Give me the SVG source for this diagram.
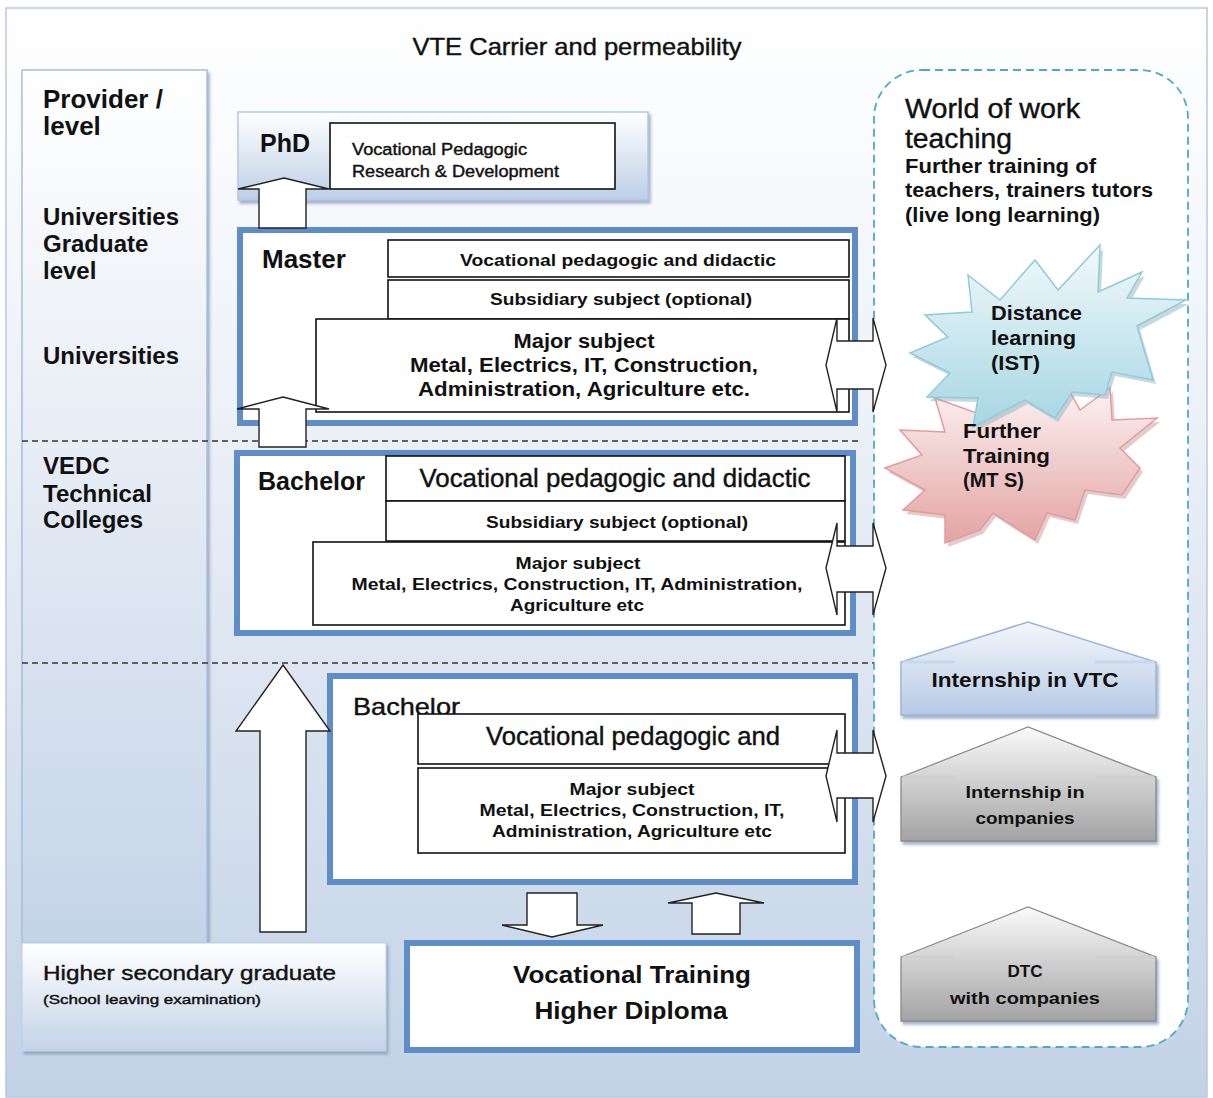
<svg xmlns="http://www.w3.org/2000/svg" width="1213" height="1098" viewBox="0 0 1213 1098">
  <defs>
    <linearGradient id="bgGrad" x1="0" y1="0" x2="0" y2="1">
      <stop offset="0" stop-color="#ffffff"/>
      <stop offset="0.35" stop-color="#eef2f8"/>
      <stop offset="1" stop-color="#c2d2e6"/>
    </linearGradient>
    <linearGradient id="colGrad" x1="0" y1="0" x2="0" y2="1">
      <stop offset="0" stop-color="#ffffff"/>
      <stop offset="0.4" stop-color="#e9eef6"/>
      <stop offset="1" stop-color="#c4d4e8"/>
    </linearGradient>
    <linearGradient id="phdGrad" x1="0" y1="0" x2="0" y2="1">
      <stop offset="0" stop-color="#ffffff"/>
      <stop offset="1" stop-color="#bccfe6"/>
    </linearGradient>
    <linearGradient id="hsGrad" x1="0" y1="0" x2="0" y2="1">
      <stop offset="0" stop-color="#ffffff"/>
      <stop offset="1" stop-color="#c3d3e8"/>
    </linearGradient>
    <linearGradient id="vtcGrad" x1="0" y1="0" x2="0" y2="1">
      <stop offset="0" stop-color="#f4f7fb"/>
      <stop offset="1" stop-color="#b6cae4"/>
    </linearGradient>
    <linearGradient id="grayGrad" x1="0" y1="0" x2="0" y2="1">
      <stop offset="0" stop-color="#fafafa"/>
      <stop offset="1" stop-color="#a3a3a3"/>
    </linearGradient>
    <linearGradient id="blueStar" x1="0" y1="0" x2="0" y2="1">
      <stop offset="0" stop-color="#f2f9fb"/>
      <stop offset="1" stop-color="#a6d6e3"/>
    </linearGradient>
    <linearGradient id="pinkStar" x1="0" y1="0" x2="0" y2="1">
      <stop offset="0" stop-color="#fcf2f2"/>
      <stop offset="1" stop-color="#e3a3a3"/>
    </linearGradient>
    <filter id="shadow" x="-10%" y="-10%" width="125%" height="130%">
      <feDropShadow dx="2" dy="3" stdDeviation="1.5" flood-color="#7d93b2" flood-opacity="0.7"/>
    </filter>
  </defs>
  <style>
    text { font-family: "Liberation Sans", Arial, sans-serif; fill: #111; }
    .b { font-weight: bold; }
    .m { stroke: #111; stroke-width: 0.4; }
    .c { text-anchor: middle; }
    .frame { fill: url(#bgGrad); stroke: #b7c9e0; stroke-width: 1.5; }
    .tier { fill: #ffffff; stroke: #5f8dc8; stroke-width: 6; }
    .row { fill: #ffffff; stroke: #111; stroke-width: 1.6; }
    .arrow { fill: #ffffff; stroke: #222; stroke-width: 1.4; stroke-linejoin: miter; }
    .divider { stroke: #333; stroke-width: 1.6; stroke-dasharray: 6 4; fill: none; }
    .roofline { stroke-width: 3; fill: none; }
  </style>

  <!-- page background -->
  <rect class="frame" x="6" y="8" width="1201" height="1089"/>
  <text x="577" y="55" class="c m" font-size="24" textLength="329" lengthAdjust="spacingAndGlyphs">VTE Carrier and permeability</text>

  <!-- provider / level column -->
  <g id="provider-column">
    <rect x="22" y="70" width="185" height="873" fill="url(#colGrad)" stroke="#a9bfdc" stroke-width="1.5" filter="url(#shadow)"/>
    <text x="43" y="108" class="b" font-size="26">Provider /</text>
    <text x="43" y="135" class="b" font-size="26">level</text>
    <text x="43" y="225" class="b" font-size="24">Universities</text>
    <text x="43" y="252" class="b" font-size="24">Graduate</text>
    <text x="43" y="279" class="b" font-size="24">level</text>
    <text x="43" y="364" class="b" font-size="24">Universities</text>
    <text x="43" y="474" class="b" font-size="24">VEDC</text>
    <text x="43" y="502" class="b" font-size="24">Technical</text>
    <text x="43" y="528" class="b" font-size="24">Colleges</text>
  </g>

  <!-- level dividers -->
  <g id="dividers">
    <line class="divider" x1="22" y1="441" x2="860" y2="441"/>
    <line class="divider" x1="22" y1="663" x2="875" y2="663"/>
  </g>

  <!-- world of work frame -->
  <g id="world-of-work">
    <rect x="874" y="70" width="314" height="977" rx="48" ry="48" fill="#ffffff" stroke="#4bacc6" stroke-width="1.8" stroke-dasharray="8 5"/>
    <text x="905" y="118" class="m" font-size="27" textLength="175" lengthAdjust="spacingAndGlyphs">World of work</text>
    <text x="905" y="148" class="m" font-size="27" textLength="107" lengthAdjust="spacingAndGlyphs">teaching</text>
    <text x="905" y="173" class="b" font-size="20" textLength="191" lengthAdjust="spacingAndGlyphs">Further training of</text>
    <text x="905" y="197" class="b" font-size="20" textLength="248" lengthAdjust="spacingAndGlyphs">teachers, trainers tutors</text>
    <text x="905" y="222" class="b" font-size="20" textLength="195" lengthAdjust="spacingAndGlyphs">(live long learning)</text>
  </g>

  <!-- PhD -->
  <g id="phd">
    <rect x="238" y="112" width="410" height="88" fill="url(#phdGrad)" stroke="#b4c8e2" stroke-width="1.5" filter="url(#shadow)"/>
    <text x="260" y="152" class="b" font-size="25">PhD</text>
    <rect x="330" y="123" width="285" height="66" class="row"/>
    <text x="352" y="155" class="m" font-size="16" textLength="175" lengthAdjust="spacingAndGlyphs">Vocational Pedagogic</text>
    <text x="352" y="177" class="m" font-size="16" textLength="207" lengthAdjust="spacingAndGlyphs">Research &amp; Development</text>
  </g>

  <!-- Master -->
  <g id="master">
    <rect x="240" y="230" width="615" height="193" class="tier"/>
    <text x="262" y="268" class="b" font-size="26">Master</text>
    <rect x="388" y="240" width="461" height="37" class="row"/>
    <text x="618" y="266" class="c b" font-size="16" textLength="316" lengthAdjust="spacingAndGlyphs">Vocational pedagogic and didactic</text>
    <rect x="388" y="280" width="461" height="39" class="row"/>
    <text x="621" y="305" class="c b" font-size="16" textLength="262" lengthAdjust="spacingAndGlyphs">Subsidiary subject (optional)</text>
    <rect x="316" y="319" width="533" height="93" class="row"/>
    <text x="584" y="348" class="c b" font-size="20" textLength="141" lengthAdjust="spacingAndGlyphs">Major subject</text>
    <text x="584" y="372" class="c b" font-size="20" textLength="348" lengthAdjust="spacingAndGlyphs">Metal, Electrics, IT, Construction,</text>
    <text x="584" y="396" class="c b" font-size="20" textLength="332" lengthAdjust="spacingAndGlyphs">Administration, Agriculture etc.</text>
  </g>

  <!-- Bachelor at VEDC / technical colleges -->
  <g id="bachelor-vedc">
    <rect x="237" y="453" width="616" height="180" class="tier"/>
    <text x="258" y="490" class="b" font-size="25">Bachelor</text>
    <rect x="386" y="456" width="459" height="45" class="row"/>
    <text x="615" y="487" class="c m" font-size="25" textLength="391" lengthAdjust="spacingAndGlyphs">Vocational pedagogic and didactic</text>
    <rect x="386" y="501" width="459" height="40" class="row"/>
    <text x="617" y="528" class="c b" font-size="16" textLength="262" lengthAdjust="spacingAndGlyphs">Subsidiary subject (optional)</text>
    <rect x="313" y="542" width="532" height="83" class="row"/>
    <text x="578" y="569" class="c b" font-size="17" textLength="125" lengthAdjust="spacingAndGlyphs">Major subject</text>
    <text x="577" y="590" class="c b" font-size="17" textLength="451" lengthAdjust="spacingAndGlyphs">Metal, Electrics, Construction, IT, Administration,</text>
    <text x="577" y="611" class="c b" font-size="17" textLength="134" lengthAdjust="spacingAndGlyphs">Agriculture etc</text>
  </g>

  <!-- Bachelor (lower level) -->
  <g id="bachelor-lower">
    <rect x="330" y="676" width="525" height="206" class="tier"/>
    <text x="353" y="715" class="m" font-size="24" textLength="107" lengthAdjust="spacingAndGlyphs">Bachelor</text>
    <rect x="418" y="714" width="427" height="50" class="row"/>
    <text x="633" y="745" class="c m" font-size="25" textLength="294" lengthAdjust="spacingAndGlyphs">Vocational pedagogic and</text>
    <rect x="418" y="768" width="427" height="85" class="row"/>
    <text x="632" y="795" class="c b" font-size="17" textLength="125" lengthAdjust="spacingAndGlyphs">Major subject</text>
    <text x="632" y="816" class="c b" font-size="17" textLength="305" lengthAdjust="spacingAndGlyphs">Metal, Electrics, Construction, IT,</text>
    <text x="632" y="837" class="c b" font-size="17" textLength="280" lengthAdjust="spacingAndGlyphs">Administration, Agriculture etc</text>
  </g>

  <!-- Higher secondary graduate -->
  <g id="higher-secondary">
    <rect x="22" y="943" width="364" height="108" fill="url(#hsGrad)" stroke="#c0d0e6" stroke-width="1" filter="url(#shadow)"/>
    <text x="43" y="980" class="m" font-size="21" textLength="293" lengthAdjust="spacingAndGlyphs">Higher secondary graduate</text>
    <text x="43" y="1004" class="m" font-size="13" stroke-width="0.3" textLength="218" lengthAdjust="spacingAndGlyphs">(School leaving examination)</text>
  </g>

  <!-- Vocational Training Higher Diploma -->
  <g id="vocational-diploma">
    <rect x="407" y="943" width="450" height="107" class="tier"/>
    <text x="632" y="983" class="c b" font-size="24" textLength="238" lengthAdjust="spacingAndGlyphs">Vocational Training</text>
    <text x="631" y="1019" class="c b" font-size="24" textLength="193" lengthAdjust="spacingAndGlyphs">Higher Diploma</text>
  </g>

  <!-- further training bursts -->
  <g id="further-training">
    <polygon points="900,430 945,432 935,398 990,418 1030,392 1067,387 1080,410 1110,388 1112,420 1157,418 1120,448 1140,468 1122,495 1085,490 1075,520 1047,513 1035,540 993,513 980,530 945,543 945,515 903,510 925,490 885,468 922,455" fill="#c89a9a" opacity="0.5" transform="translate(3,4)"/>
    <polygon points="900,430 945,432 935,398 990,418 1030,392 1067,387 1080,410 1110,388 1112,420 1157,418 1120,448 1140,468 1122,495 1085,490 1075,520 1047,513 1035,540 993,513 980,530 945,543 945,515 903,510 925,490 885,468 922,455" fill="url(#pinkStar)" stroke="#e39c9c" stroke-width="1.5"/>
  </g>
  <g id="distance-learning">
    <polygon points="968,275 1000,300 1035,260 1058,290 1100,245 1098,292 1142,272 1127,298 1186,300 1137,326 1153,380 1112,372 1105,395 1072,392 1055,418 1025,400 973,427 978,398 927,397 950,373 910,353 948,337 925,315 972,312" fill="#8fb4c0" opacity="0.5" transform="translate(3,4)"/>
    <polygon points="968,275 1000,300 1035,260 1058,290 1100,245 1098,292 1142,272 1127,298 1186,300 1137,326 1153,380 1112,372 1105,395 1072,392 1055,418 1025,400 973,427 978,398 927,397 950,373 910,353 948,337 925,315 972,312" fill="url(#blueStar)" stroke="#8fcbdb" stroke-width="1.5"/>
    <text x="991" y="320" class="b" font-size="21" textLength="91" lengthAdjust="spacingAndGlyphs">Distance</text>
    <text x="991" y="345" class="b" font-size="21" textLength="85" lengthAdjust="spacingAndGlyphs">learning</text>
    <text x="991" y="370" class="b" font-size="21" textLength="49" lengthAdjust="spacingAndGlyphs">(IST)</text>
  </g>
  <g id="further-training-label">
    <text x="963" y="438" class="b" font-size="21" textLength="78" lengthAdjust="spacingAndGlyphs">Further</text>
    <text x="963" y="463" class="b" font-size="21" textLength="87" lengthAdjust="spacingAndGlyphs">Training</text>
    <text x="963" y="487" class="b" font-size="21" textLength="61" lengthAdjust="spacingAndGlyphs">(MT S)</text>
  </g>

  <!-- internships and DTC -->
  <g id="internship-vtc">
    <polygon points="901,662 1028,622 1156,662 1156,715 901,715" fill="url(#vtcGrad)" stroke="#9ab7db" stroke-width="1.5" filter="url(#shadow)"/>
    <line class="roofline" x1="903" y1="662" x2="955" y2="662" stroke="#c9d8ec"/>
    <line class="roofline" x1="1095" y1="662" x2="1154" y2="662" stroke="#c9d8ec"/>
    <text x="1025" y="687" class="c b" font-size="21" textLength="187" lengthAdjust="spacingAndGlyphs">Internship in VTC</text>
  </g>
  <g id="internship-companies">
    <polygon points="901,777 1028,727 1156,777 1156,841 901,841" fill="url(#grayGrad)" stroke="#8a8a8a" stroke-width="1.3" filter="url(#shadow)"/>
    <line class="roofline" x1="903" y1="777" x2="955" y2="777" stroke="#d0d0d0"/>
    <line class="roofline" x1="1095" y1="777" x2="1154" y2="777" stroke="#d0d0d0"/>
    <text x="1025" y="798" class="c b" font-size="17" textLength="119" lengthAdjust="spacingAndGlyphs">Internship in</text>
    <text x="1025" y="824" class="c b" font-size="17" textLength="99" lengthAdjust="spacingAndGlyphs">companies</text>
  </g>
  <g id="dtc">
    <polygon points="901,957 1028,907 1156,957 1156,1021 901,1021" fill="url(#grayGrad)" stroke="#8a8a8a" stroke-width="1.3" filter="url(#shadow)"/>
    <line class="roofline" x1="903" y1="957" x2="955" y2="957" stroke="#d0d0d0"/>
    <line class="roofline" x1="1095" y1="957" x2="1154" y2="957" stroke="#d0d0d0"/>
    <text x="1025" y="977" class="c b" font-size="17" textLength="35" lengthAdjust="spacingAndGlyphs">DTC</text>
    <text x="1025" y="1004" class="c b" font-size="17" textLength="150" lengthAdjust="spacingAndGlyphs">with companies</text>
  </g>

  <!-- progression arrows -->
  <g id="connectors">
    <polygon class="arrow" points="284,178 329,189 306,189 306,228 259,228 259,189 238,189"/>
    <polygon class="arrow" points="283,397 329,409 306,409 306,447 259,447 259,409 237,409"/>
    <polygon class="arrow" points="283,665 330,731 306,731 306,932 260,932 260,731 236,731"/>
    <polygon class="arrow" points="527,893 577,893 577,925 603,925 552,937 502,925 527,925"/>
    <polygon class="arrow" points="716,893 764,903 740,903 740,934 692,934 692,903 668,903"/>
    <polygon class="arrow" points="826,365 837,318 837,341 873,341 873,318 886,365 873,412 873,389 837,389 837,412"/>
    <polygon class="arrow" points="826,568 837,523 837,546 873,546 873,523 886,568 873,615 873,592 837,592 837,615"/>
    <polygon class="arrow" points="826,776 837,730 837,753 873,753 873,730 886,776 873,822 873,798 837,798 837,822"/>
  </g>
</svg>
